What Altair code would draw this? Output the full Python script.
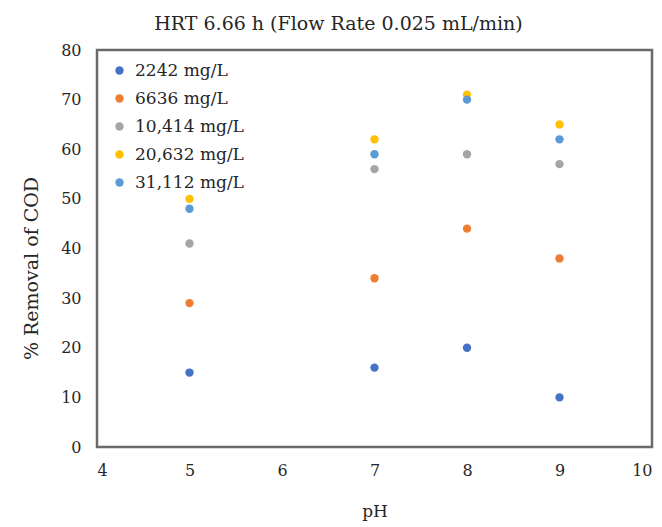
import altair as alt
import pandas as pd

ph = [5, 7, 8, 9]
series = ["2242 mg/L", "6636 mg/L", "10,414 mg/L", "20,632 mg/L", "31,112 mg/L"]
colors = ["#4472C4", "#ED7D31", "#A5A5A5", "#FFC000", "#5B9BD5"]
v2242 = [15, 16, 20, 10]
v6636 = [29, 34, 44, 38]
v10414 = [41, 56, 59, 57]
v20632 = [50, 62, 71, 65]
v31112 = [48, 59, 70, 62]

rows = []
for name, vals in zip(series, [v2242, v6636, v10414, v20632, v31112]):
    for x, y in zip(ph, vals):
        rows.append({"pH": x, "val": y, "series": name})
df = pd.DataFrame(rows)

FONT = "DejaVu Serif"
TXT = "#262626"

chart = alt.Chart(df).mark_point(filled=True, size=70, opacity=1).encode(
    x=alt.X("pH:Q", scale=alt.Scale(domain=[4, 10], nice=False),
            axis=alt.Axis(values=[4, 5, 6, 7, 8, 9, 10], title="pH", grid=False,
                          domain=False, ticks=False, labelPadding=15,
                          titlePadding=25, labelFontSize=16, titleFontSize=17,
                          labelFont=FONT, titleFont=FONT, labelColor=TXT,
                          titleColor=TXT, titleFontWeight="normal")),
    y=alt.Y("val:Q", scale=alt.Scale(domain=[0, 80], nice=False),
            axis=alt.Axis(values=[0, 10, 20, 30, 40, 50, 60, 70, 80],
                          title="% Removal of COD", grid=False, domain=False,
                          ticks=False, labelPadding=16, titlePadding=19,
                          labelFontSize=16, titleFontSize=19, labelFont=FONT,
                          titleFont=FONT, labelColor=TXT, titleColor=TXT,
                          titleFontWeight="normal", titleY=218)),
    color=alt.Color("series:N", sort=series,
                    scale=alt.Scale(domain=series, range=colors),
                    legend=alt.Legend(title=None, orient="none", legendX=14,
                                      legendY=12, labelFont=FONT, labelFontSize=17,
                                      labelColor=TXT, symbolSize=70,
                                      symbolType="circle", rowPadding=10,
                                      labelOffset=7, padding=0)),
).properties(
    width=555,
    height=397,
    title=alt.TitleParams("HRT 6.66 h (Flow Rate 0.025 mL/min)", font=FONT,
                          fontSize=19, fontWeight="normal", color=TXT,
                          dx=-36, offset=8),
    autosize=alt.AutoSizeParams(type="none"),
    padding={"left": 89, "top": 42, "right": 2, "bottom": 80},
).configure_view(stroke="#6a6a6a", strokeWidth=2.5)

chart.save("out.html", embed_options={"renderer": "svg", "actions": False})
